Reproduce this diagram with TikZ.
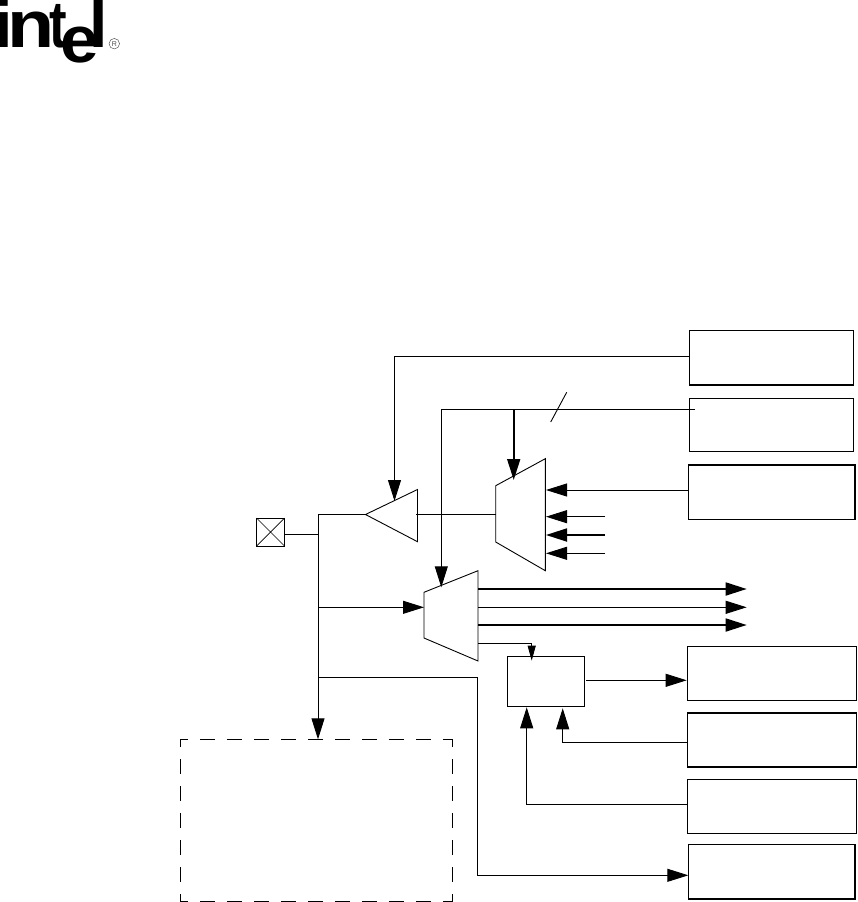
\documentclass[tikz,border=0pt]{standalone}
\usepackage{fontspec}
\setmainfont{Liberation Sans}
\usetikzlibrary{arrows.meta,calc}
\tikzset{
  wire/.style={line width=0.9pt,draw=black},
  heavy/.style={line width=1.8pt,draw=black},
  big/.style={-{Triangle[length=21pt,width=13pt]}},
  small/.style={-{Triangle[length=15pt,width=8pt]}},
  panel/.style={draw=black,line width=0.9pt,minimum width=#1,inner sep=0pt,outer sep=0pt,fill=white},
  panel/.default=164pt,
  logo/.style={inner sep=0pt,outer sep=0pt,anchor=base west,font=\fontsize{66}{66}\selectfont\bfseries},
  dashside/.style={line width=0.9pt,draw=black,dash pattern=on 15.3pt off 11.7pt,dash phase=7.3pt},
}
\begin{document}
\begin{tikzpicture}[x=1pt,y=-1pt]
\useasboundingbox (0,0) rectangle (857,902);
% logo
\node[logo] (li) at (-5.3,47) {i};
\node[logo] (ln) at (7.9,47) {\scalebox{1.17}[1]{n}};
\node[logo] (lt) at (49.2,47) {\scalebox{0.8}[1]{t}};
\node[logo] (le) at (60.7,62) {\scalebox{1.05}[1]{e}};
\node[logo] (ll) at (89.2,47) {l};
\node[circle,draw=black!70,line width=0.45pt,inner sep=0pt,minimum size=10.5pt,text=black!70,font=\fontsize{7}{7}\selectfont] (lr) at (114.3,43.7) {R};
% pad
\node[draw=black,line width=0.9pt,minimum size=28pt,inner sep=0pt,outer sep=0pt] (pad) at (270.5,532) {};
\draw[line width=0.7pt] (pad.north west) -- (pad.south east) (pad.north east) -- (pad.south west);
% boxes
\node[panel=164pt,minimum height=54.7pt] (b1) at (771.5,357.6) {};
\node[panel=164pt,minimum height=53pt] (b2) at (771.5,424.8) {};
\node[panel=167pt,minimum height=54.3pt] (b3) at (771.8,492.1) {};
\node[panel=169.4pt,minimum height=54pt] (r1) at (772,673.3) {};
\node[panel=169.4pt,minimum height=53.7pt] (r2) at (772,739.8) {};
\node[panel=169.4pt,minimum height=54pt] (r3) at (772,806.3) {};
\node[panel=167pt,minimum height=54.7pt] (r4) at (771.8,871.6) {};
\node[panel=77pt,minimum height=50pt] (ctl) at (545.8,681.3) {};
\draw[heavy] (b1.south west) -- (b1.south east);
\draw[heavy] (b3.north west) -- (b3.north east) -- (b3.south east);
\draw[heavy] (r2.north west) -- (r2.north east) (r2.south west) -- (r2.south east);
\draw[heavy] (r4.north east) -- (r4.south east) -- (r4.south west);
\draw[line width=1.4pt] (ctl.north east) -- (ctl.south east);
% dashed box
\node[minimum width=272.4pt,minimum height=162pt,inner sep=0pt,outer sep=0pt] (dbox) at (316.5,820.3) {};
\draw[dashside] (dbox.north west) -- (dbox.north east);
\draw[dashside] (dbox.north west) -- (dbox.south west);
\draw[dashside] (dbox.north east) -- (dbox.south east);
\draw[dashside] (dbox.south west) -- (dbox.south east);
% shapes
\coordinate (tip) at (365.5,514.5);
\coordinate (dt) at (417.5,489.5);
\coordinate (db) at (417.5,541.7);
\coordinate (m1a) at (495.7,485.7);
\coordinate (m1b) at (545.3,458.7);
\coordinate (m1c) at (545.3,570.7);
\coordinate (m1d) at (495.7,542);
\coordinate (m2a) at (424,592.3);
\coordinate (m2b) at (478,570.7);
\coordinate (m2c) at (478,661);
\coordinate (m2d) at (424,638);
\draw[wire] (tip) -- (dt) -- (db) -- cycle;
\draw[wire] (m1a) -- (m1b) -- (m1c) -- (m1d) -- cycle;
\draw[wire] (m2a) -- (m2b) -- (m2c) -- (m2d) -- cycle;
% trunk
\coordinate (t0) at (318,534.5);
\coordinate (ttop) at (318,514.5);
\coordinate (tin) at (318,607.3);
\coordinate (tout) at (318,677.3);
\draw[wire] (pad.east |- t0) -- (t0);
\draw[wire] (ttop) -- (tip);
\draw[wire,big] (ttop) -- (dbox.north -| ttop);
\draw[wire,big] (tin) -- (m2a |- tin);
\draw[wire] (416,514.5) -- (m1a |- tip);
\coordinate (j2) at (477.3,677.3);
\draw[wire,big] (tout) -- (j2) |- (r4.west |- 0,875.3);
% control lines
\draw[wire,big] (b1.west |- 0,356) -| (394.5,501);
\draw[wire] (695,409.3) -- (441.3,409.3);
\draw[wire,big] (441.3,409.3) -- (441.3,587.3);
\draw[heavy,big] (513.7,409.3) -- (513.7,480);
\coordinate (s1) at (550.7,422);
\coordinate (s2) at (566.7,392.3);
\draw[wire] (s1) -- (s2);
% mux1 inputs
\draw[wire,big] (b3.west |- 0,490) -- (546,490);
\coordinate (i1) at (605,516.7);
\coordinate (i2) at (605,535);
\coordinate (i3) at (605,553.3);
\draw[wire,big] (i1) -- (546,516.7);
\draw[heavy,big] (i2) -- (546,535);
\draw[wire,big] (i3) -- (546,553.3);
% mux2 outputs
\coordinate (o1) at (746.7,589);
\coordinate (o2) at (746.7,607.3);
\coordinate (o3) at (746.7,625);
\draw[heavy,big] (m2b |- o1) -- (o1);
\draw[wire,big] (m2b |- o2) -- (o2);
\draw[heavy,big] (m2b |- o3) -- (o3);
\draw[wire,small] (478,643.3) -| (531.7,660.7);
% control block
\draw[wire,big] (586,680.3) -- (686.7,680.3);
\draw[wire,big] (r2.west |- 0,742.3) -| (562.7,708.3);
\draw[wire,big] (r3.west |- 0,804.3) -| (526.7,707.3);
\end{tikzpicture}
\end{document}
